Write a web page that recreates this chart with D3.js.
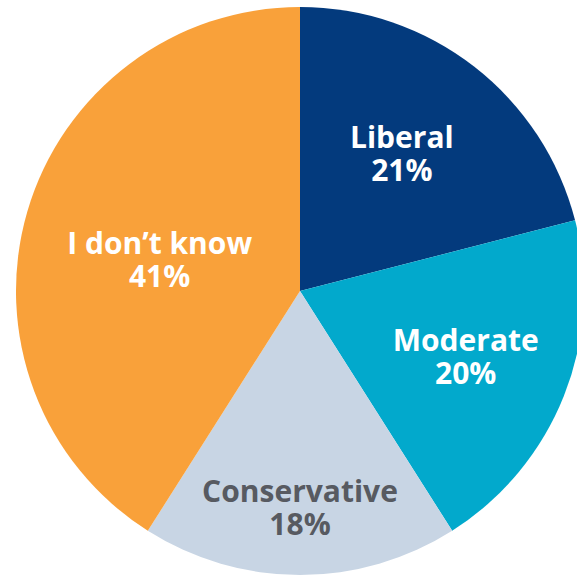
<!DOCTYPE html>
<html>
<head>
<meta charset="utf-8">
<script src="https://cdn.jsdelivr.net/npm/d3@7"></script>
<style>
  html, body { margin: 0; padding: 0; background: #fff; }
  svg { display: block; }
</style>
</head>
<body>
<svg id="chart" width="577" height="577"></svg>
<script>
const categories = ["Liberal", "Moderate", "Conservative", "I don\u2019t know"];
const values = [21, 20, 18, 41];
const valueLabels = ["21%", "20%", "18%", "41%"];
const colors = ["#033a7d", "#02a9cc", "#c8d5e4", "#f9a13a"];
const textColors = ["#ffffff", "#ffffff", "#575a61", "#ffffff"];
// label anchor: radius from centre and angle (degrees, clockwise from top)
const labelRadius = [172, 178, 215, 144];
const labelAngle = [36.3, 111.4, 180, 282.9];

const svg = d3.select("#chart");
const cx = 300, cy = 291, R = 284;
const g = svg.append("g").attr("transform", `translate(${cx},${cy})`);

const data = categories.map((c, i) => ({ name: c, value: values[i], pct: valueLabels[i], i }));
const pie = d3.pie().value(d => d.value).sort(null);
const arc = d3.arc().innerRadius(0).outerRadius(R);
const arcs = pie(data);

g.selectAll("path.slice")
  .data(arcs)
  .join("path")
  .attr("class", "slice")
  .attr("d", arc)
  .attr("fill", d => colors[d.data.i]);

const labels = g.selectAll("text.lbl")
  .data(arcs)
  .join("text")
  .attr("class", "lbl")
  .attr("text-anchor", "middle")
  .attr("font-family", "'Open Sans', sans-serif")
  .attr("font-weight", 700)
  .attr("font-size", 30)
  .attr("fill", d => textColors[d.data.i])
  .attr("transform", d => {
    const a = labelAngle[d.data.i] * Math.PI / 180;
    const r = labelRadius[d.data.i];
    return `translate(${r * Math.sin(a)},${-r * Math.cos(a)})`;
  });

labels.append("tspan").attr("x", 0).attr("dy", "-0.15em").text(d => d.data.name);
labels.append("tspan").attr("x", 0).attr("dy", "1.1em").text(d => d.data.pct);
</script>
</body>
</html>
